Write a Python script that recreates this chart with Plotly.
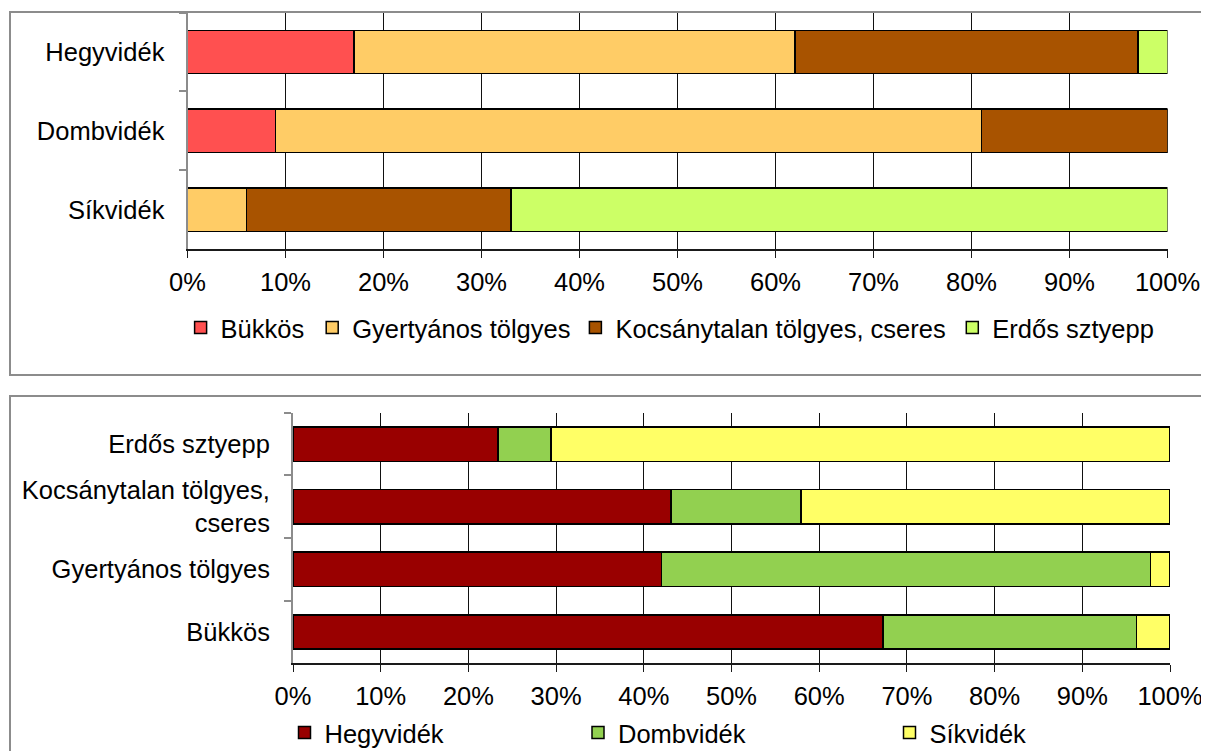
import plotly.graph_objects as go

W, H = 1209, 751
OFF = 8  # page body margin: screen position = figure position + 8

# ---------------- data ----------------
regions = ["Hegyvidék", "Dombvidék", "Síkvidék"]
forest_types = ["Bükkös", "Gyertyános tölgyes", "Kocsánytalan tölgyes, cseres", "Erdős sztyepp"]

# Top chart: composition of each region by forest type (%)
bukkos_by_region = [17, 9, 0]
gyertyanos_by_region = [45, 72, 6]
kocsanytalan_by_region = [35, 19, 27]
erdos_by_region = [3, 0, 67]

# Bottom chart: distribution of each forest type among regions (%)
type_labels = ["Bükkös", "Gyertyános tölgyes", "Kocsánytalan tölgyes,<br>cseres", "Erdős sztyepp"]
region_names = ["Hegyvidék", "Dombvidék", "Síkvidék"]
hegy_by_type = [67.3, 42.0, 43.1, 23.4]
domb_by_type = [28.9, 55.8, 14.8, 6.0]
sik_by_type = [3.8, 2.2, 42.1, 70.6]

x_tickvals = [0, 10, 20, 30, 40, 50, 60, 70, 80, 90, 100]
x_ticktext = ["0%", "10%", "20%", "30%", "40%", "50%", "60%", "70%", "80%", "90%", "100%"]

top_colors = ["#FF5050", "#FFCC66", "#A85300", "#CCFF66"]
bottom_colors = ["#990000", "#92D050", "#FFFF66"]

FONT = "Liberation Sans, Arial, sans-serif"
FS = 25.5


def px_x(p):
    """screen x pixel -> figure fraction"""
    return (p - OFF) / W


def px_y(p):
    """screen y pixel -> figure fraction (from bottom)"""
    return 1 - (p - OFF) / H


fig = go.Figure()

top_series = [bukkos_by_region, gyertyanos_by_region, kocsanytalan_by_region, erdos_by_region]
top_legends = ["legend", "legend2", "legend3", "legend4"]
for name, vals, col, lg in zip(forest_types, top_series, top_colors, top_legends):
    fig.add_trace(go.Bar(
        y=regions, x=vals, name=name, orientation="h",
        marker=dict(color=col, line=dict(color="#000000", width=1.5)),
        xaxis="x", yaxis="y", legend=lg, hoverinfo="skip",
    ))

bottom_series = [hegy_by_type, domb_by_type, sik_by_type]
bottom_legends = ["legend5", "legend6", "legend7"]
for name, vals, col, lg in zip(region_names, bottom_series, bottom_colors, bottom_legends):
    fig.add_trace(go.Bar(
        y=type_labels, x=vals, name=name, orientation="h",
        marker=dict(color=col, line=dict(color="#000000", width=1.5)),
        xaxis="x2", yaxis="y2", legend=lg, hoverinfo="skip",
    ))

xaxis_common = dict(
    range=[0, 100], tickmode="array", tickvals=x_tickvals, ticktext=x_ticktext,
    showgrid=True, gridcolor="#111111", gridwidth=1,
    showline=True, linecolor="#1a1a1a", linewidth=1.5,
    ticks="outside", ticklen=7, tickcolor="#1a1a1a", tickwidth=1,
    zeroline=False, fixedrange=True, automargin=False,
    tickfont=dict(family=FONT, size=FS, color="#000000"),
    ticklabelstandoff=2,
)
yaxis_common = dict(
    type="category", showgrid=False, zeroline=False,
    showline=True, linecolor="#8c8c8c", linewidth=2,
    ticks="outside", tickson="boundaries", ticklen=7, tickcolor="#8c8c8c", tickwidth=2,
    fixedrange=True, automargin=False,
    tickfont=dict(family=FONT, size=FS, color="#000000"),
    ticklabelstandoff=16,
)

legend_common = dict(
    orientation="h", xanchor="left", yanchor="middle",
    xref="container", yref="container",
    bgcolor="rgba(0,0,0,0)", borderwidth=0,
    font=dict(family=FONT, size=FS, color="#000000"),
    itemclick=False, itemdoubleclick=False,
)

# screen x of the left edge of each legend box
top_leg_x = [180.6, 312.2, 575.4, 952.3]
bottom_leg_x = [284.5, 578.0, 889.5]
legs = {}
for lg, xx in zip(top_legends, top_leg_x):
    legs[lg] = dict(legend_common, x=px_x(xx), y=px_y(328))
for lg, xx in zip(bottom_legends, bottom_leg_x):
    legs[lg] = dict(legend_common, x=px_x(xx), y=px_y(733))

fig.update_layout(
    width=W, height=H, autosize=False,
    margin=dict(l=0, r=0, t=0, b=0, pad=0, autoexpand=False),
    paper_bgcolor="#ffffff", plot_bgcolor="#ffffff",
    barmode="stack", bargap=0.45,
    font=dict(family=FONT, size=FS, color="#000000"),
    xaxis=dict(xaxis_common, domain=[px_x(187.5), px_x(1167.5)], anchor="y"),
    yaxis=dict(yaxis_common, domain=[px_y(249.3), px_y(12.5)], anchor="x",
               categoryorder="array", categoryarray=regions[::-1]),
    xaxis2=dict(xaxis_common, domain=[px_x(293), px_x(1170)], anchor="y2"),
    yaxis2=dict(yaxis_common, domain=[px_y(663.3), px_y(412.7)], anchor="x2",
                categoryorder="array", categoryarray=type_labels),
    showlegend=True,
    **legs,
    shapes=[
        dict(type="rect", xref="paper", yref="paper",
             x0=px_x(10), x1=1.05, y0=px_y(375), y1=px_y(12),
             line=dict(color="#8c8c8c", width=2), fillcolor="rgba(0,0,0,0)", layer="below"),
        dict(type="rect", xref="paper", yref="paper",
             x0=px_x(10), x1=1.05, y0=-0.05, y1=px_y(396),
             line=dict(color="#8c8c8c", width=2), fillcolor="rgba(0,0,0,0)", layer="below"),
    ],
)

fig.write_html("out.html", config={"displayModeBar": False})
